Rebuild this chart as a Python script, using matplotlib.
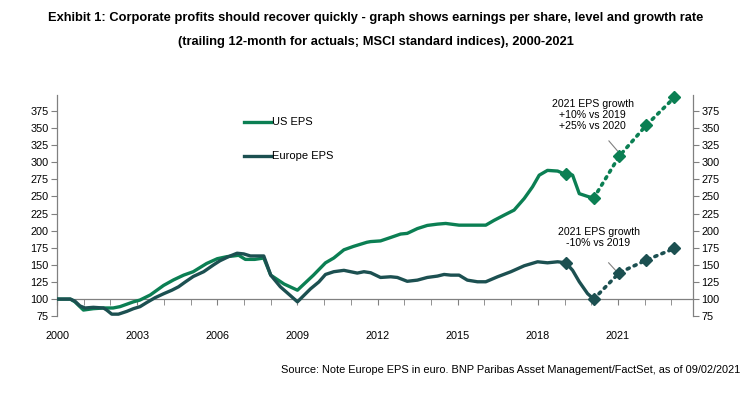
import matplotlib
matplotlib.use("Agg")
import matplotlib.pyplot as plt
from matplotlib.ticker import MultipleLocator, FixedLocator

plt.rcParams['font.family'] = ['Liberation Sans', 'DejaVu Sans']

# ---- data (x in years since 2000) ----
us_t = [0.0, 0.5, 0.67, 0.99, 1.36, 1.74, 2.1, 2.36, 2.86, 3.1, 3.49, 3.99, 4.36, 4.74,
        5.1, 5.6, 6.0, 6.36, 6.6, 6.8, 7.05, 7.4, 7.74, 8.0, 8.5, 9.0, 9.6, 10.05,
        10.36, 10.74, 11.1, 11.6, 11.74, 12.11, 12.49, 12.86, 13.11, 13.49, 13.86,
        14.24, 14.55, 15.05, 15.49, 16.05, 16.36, 16.74, 17.11, 17.49, 17.8, 18.05,
        18.36, 18.74, 19.05, 19.3, 19.55, 19.86, 20.09]
us_eps = [100, 100, 96, 84, 86, 87, 87, 89, 96, 98.5, 106, 120, 128, 135,
          140, 152, 159, 162, 163, 164, 158, 158, 160, 135, 122, 113, 135, 153,
          160, 172, 177, 183, 184, 185, 190, 195, 196, 203, 207.6,
          209.5, 210.5, 208, 208, 208, 215, 222.7, 230, 247, 264, 281,
          288, 287, 282, 281, 254, 250, 247.5]

eu_t = [0.0, 0.5, 0.67, 0.86, 1.05, 1.36, 1.74, 1.86, 2.05, 2.3, 2.61, 2.86, 3.11,
        3.36, 3.67, 4.0, 4.3, 4.55, 4.8, 5.1, 5.49, 5.86, 6.1, 6.42, 6.74, 6.99,
        7.24, 7.74, 8.0, 8.36, 8.74, 9.0, 9.49, 9.8, 10.05, 10.36, 10.74, 11.24,
        11.49, 11.74, 12.11, 12.49, 12.74, 13.11, 13.49, 13.86, 14.24, 14.49, 14.74,
        15.05, 15.36, 15.74, 16.05, 16.49, 16.99, 17.49, 17.99, 18.36, 18.74, 19.05,
        19.3, 19.55, 19.86, 20.09]
eu_eps = [100, 100, 97, 90, 87, 88, 87, 84, 78, 78, 82, 86, 89,
          95, 102, 108, 113, 118, 125, 133, 140, 150, 156, 162, 167, 166,
          163, 163, 135, 118, 105, 96, 115, 125, 136, 140, 142, 138,
          140, 138.5, 131.6, 132.6, 131.6, 126, 127.7, 131.6, 133.6, 136, 135,
          135, 127.7, 125.3, 125.3, 132.6, 140, 148.7, 154.5, 153, 154.5, 153,
          142, 125.3, 108, 100]

fc_t = [19.05, 20.09, 21.05, 22.06, 23.11]
us_fc = [282, 247.5, 309, 354, 394.5]
eu_fc = [153, 100, 138.5, 157, 174]

year_labels = ['2000', '2003', '2006', '2009', '2012', '2015', '2018', '2021']
y_ticks = [75, 100, 125, 150, 175, 200, 225, 250, 275, 300, 325, 350, 375]

us_col = '#0b7f53'
eu_col = '#1c5051'
grey = '#808080'

fig = plt.figure(figsize=(7.52, 3.97), dpi=100)
ax = fig.add_axes([0.0758, 0.2035, 0.8455, 0.557])

ax.plot(us_t, us_eps, color=us_col, lw=2.4, solid_joinstyle='round', zorder=3)
ax.plot(eu_t, eu_eps, color=eu_col, lw=2.4, solid_joinstyle='round', zorder=3)
ax.plot(fc_t[1:], us_fc[1:], color=us_col, lw=2.6, ls=(0, (0.6, 1.5)),
        dash_capstyle='round', zorder=3, clip_on=False)
ax.plot(fc_t[1:], eu_fc[1:], color=eu_col, lw=2.6, ls=(0, (0.6, 1.5)),
        dash_capstyle='round', zorder=3)
ax.plot(fc_t, us_fc, ls='none', marker='D', ms=6.5, color=us_col, zorder=4, clip_on=False)
ax.plot(fc_t, eu_fc, ls='none', marker='D', ms=6.5, color=eu_col, zorder=4, clip_on=False)

ax.set_xlim(0, 23.8)
ax.set_ylim(75, 398)

ax.spines['top'].set_visible(False)
ax.spines['bottom'].set_position(('data', 100))
for s in ['left', 'right', 'bottom']:
    ax.spines[s].set_color(grey)
    ax.spines[s].set_linewidth(0.9)

ax.yaxis.set_major_locator(FixedLocator(y_ticks))
ax.tick_params(axis='y', which='both', left=True, right=True, labelleft=True,
               labelright=True, direction='out', length=4, color=grey,
               labelsize=7.8, pad=2)

ax.xaxis.set_major_locator(FixedLocator([0, 3, 6, 9, 12, 15, 18, 21]))
ax.set_xticklabels(year_labels)
ax.xaxis.set_minor_locator(MultipleLocator(1))
ax.tick_params(axis='x', which='both', direction='out', length=4, color=grey)
ax.tick_params(axis='x', which='major', labelsize=7.8, pad=19)

# legend (manual)
ax.plot([7.0, 8.0], [359, 359], color=us_col, lw=2.4, clip_on=False)
ax.text(8.05, 359, 'US EPS', fontsize=8, va='center', ha='left')
ax.plot([7.0, 8.0], [309, 309], color=eu_col, lw=2.4, clip_on=False)
ax.text(8.05, 309, 'Europe EPS', fontsize=8, va='center', ha='left')

# annotations
ax.text(20.05, 369, '2021 EPS growth\n+10% vs 2019\n+25% vs 2020', fontsize=7.6,
        ha='center', va='center', linespacing=1.15)
ax.plot([20.66, 20.99], [331, 316], color=grey, lw=0.8)
ax.text(20.27, 190, '2021 EPS growth\n-10% vs 2019', fontsize=7.6,
        ha='center', va='center', linespacing=1.15)
ax.plot([20.65, 20.93], [153, 141], color=grey, lw=0.8)

fig.text(0.5, 0.955, 'Exhibit 1: Corporate profits should recover quickly - graph shows earnings per share, level and growth rate',
         ha='center', va='center', fontsize=9.3, fontweight='bold')
fig.text(0.5, 0.893, '(trailing 12-month for actuals; MSCI standard indices), 2000-2021',
         ha='center', va='center', fontsize=9.3, fontweight='bold')
fig.text(0.984, 0.068, 'Source: Note Europe EPS in euro. BNP Paribas Asset Management/FactSet, as of 09/02/2021',
         ha='right', va='center', fontsize=7.9)

fig.savefig('out.png', dpi=100)
